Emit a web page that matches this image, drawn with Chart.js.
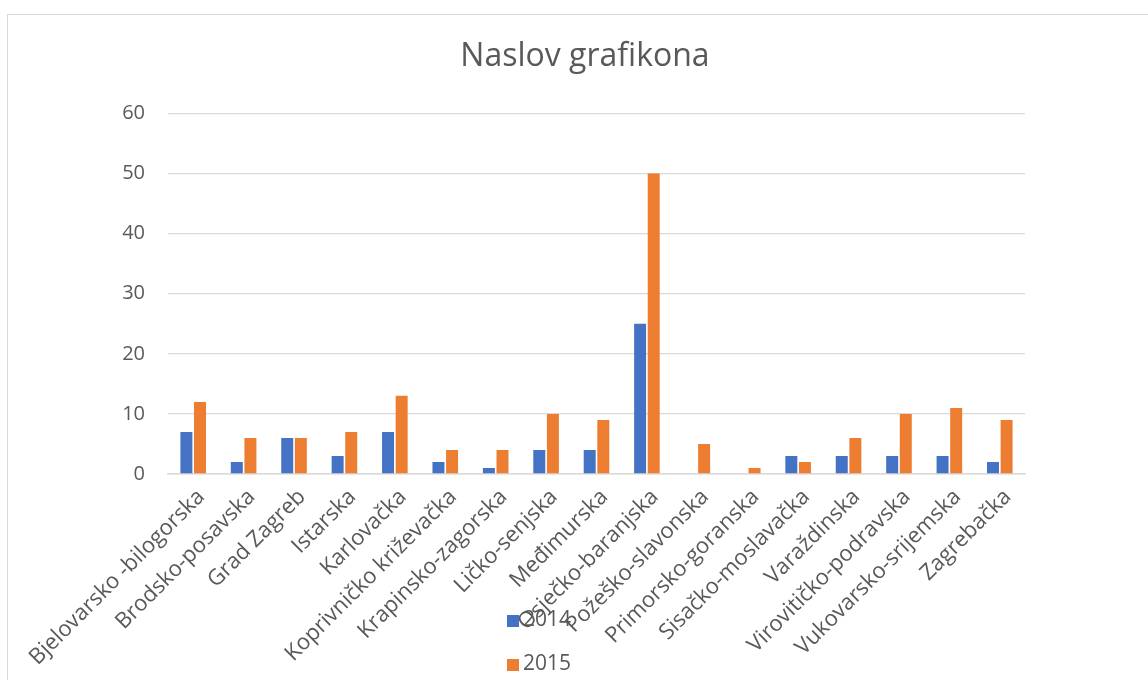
<!DOCTYPE html>
<html lang="hr">
<head>
    <meta charset="UTF-8">
    <title>Naslov grafikona</title>
    <script src="https://cdn.jsdelivr.net/npm/chart.js"></script>
    <style>
        html, body { margin: 0; padding: 0; background: #fff; overflow: hidden; }
        .wrap { position: relative; width: 1148px; height: 680px; overflow: hidden; }
        .frame { position: absolute; left: 7px; top: 14px; width: 1300px; height: 800px; border: 1.5px solid #d9d9d9; }
        canvas { position: absolute; left: 0; top: 0; }
        .legend { position: absolute; left: 507px; top: 604px; font: 21px "Open Sans", sans-serif; color: #595959; }
        .legend div { height: 44px; line-height: 28px; }
        .legend span.box { display: inline-block; width: 12px; height: 12px; margin-right: 4px; vertical-align: -1px; }
    </style>
</head>
<body>
    <div class="wrap">
        <div class="frame"></div>
        <canvas id="chart" width="1148" height="680"></canvas>
        <div class="legend" id="legend"></div>
    </div>

    <script>
        const categories = [
            'Bjelovarsko -bilogorska', 'Brodsko-posavska', 'Grad Zagreb', 'Istarska',
            'Karlovačka', 'Koprivničko križevačka', 'Krapinsko-zagorska', 'Ličko-senjska',
            'Međimurska', 'Osječko-baranjska', 'Požeško-slavonska', 'Primorsko-goranska',
            'Sisačko-moslavačka', 'Varaždinska', 'Virovitičko-podravska', 'Vukovarsko-srijemska',
            'Zagrebačka'
        ];
        const values2014 = [7, 2, 6, 3, 7, 2, 1, 4, 4, 25, null, null, 3, 3, 3, 3, 2];
        const values2015 = [12, 6, 6, 7, 13, 4, 4, 10, 9, 50, 5, 1, 2, 6, 10, 11, 9];
        const yTicks = [0, 10, 20, 30, 40, 50, 60];

        const textColor = '#595959';
        const gridColor = '#d9d9d9';

        const ctx = document.getElementById('chart').getContext('2d');
        const chart = new Chart(ctx, {
            type: 'bar',
            data: {
                labels: categories,
                datasets: [{
                    label: '2014',
                    data: values2014,
                    backgroundColor: '#4472C4',
                    categoryPercentage: 0.54,
                    barPercentage: 0.88
                }, {
                    label: '2015',
                    data: values2015,
                    backgroundColor: '#ED7D31',
                    categoryPercentage: 0.54,
                    barPercentage: 0.88
                }]
            },
            options: {
                responsive: false,
                animation: false,
                layout: { padding: { left: 22, right: 0, top: 0, bottom: 0 } },
                plugins: {
                    legend: { display: false },
                    tooltip: { enabled: false },
                    title: {
                        display: true,
                        text: 'Naslov grafikona',
                        color: textColor,
                        font: { family: 'Open Sans', size: 32, weight: 'normal' },
                        padding: { top: 38, bottom: 37 }
                    }
                },
                scales: {
                    x: {
                        grid: { display: false, drawTicks: false },
                        border: { display: true, color: gridColor, width: 1.5 },
                        ticks: {
                            color: textColor,
                            font: { family: 'Open Sans', size: 22 },
                            minRotation: 45,
                            maxRotation: 45,
                            autoSkip: false,
                            padding: 10,
                            labelOffset: 8
                        },
                        afterFit: s => { s.height = 206; }
                    },
                    y: {
                        min: 0,
                        max: 60,
                        afterBuildTicks: s => { s.ticks = yTicks.map(v => ({ value: v })); },
                        grid: { color: gridColor, lineWidth: 1.3, drawTicks: false },
                        border: { display: false },
                        ticks: {
                            color: textColor,
                            font: { family: 'Open Sans', size: 20 },
                            padding: 23
                        },
                        afterFit: s => { s.width = 146; }
                    },
                    spacer: {
                        type: 'linear',
                        position: 'right',
                        display: true,
                        grid: { display: false, drawTicks: false },
                        border: { display: false },
                        ticks: { display: false },
                        afterFit: s => { s.width = 123; }
                    }
                }
            }
        });

        // legend stacked under the axis labels, like the original
        const legend = document.getElementById('legend');
        chart.data.datasets.forEach(ds => {
            const row = document.createElement('div');
            row.innerHTML = '<span class="box" style="background:' + ds.backgroundColor + '"></span>' + ds.label;
            legend.appendChild(row);
        });
    </script>
</body>
</html>
